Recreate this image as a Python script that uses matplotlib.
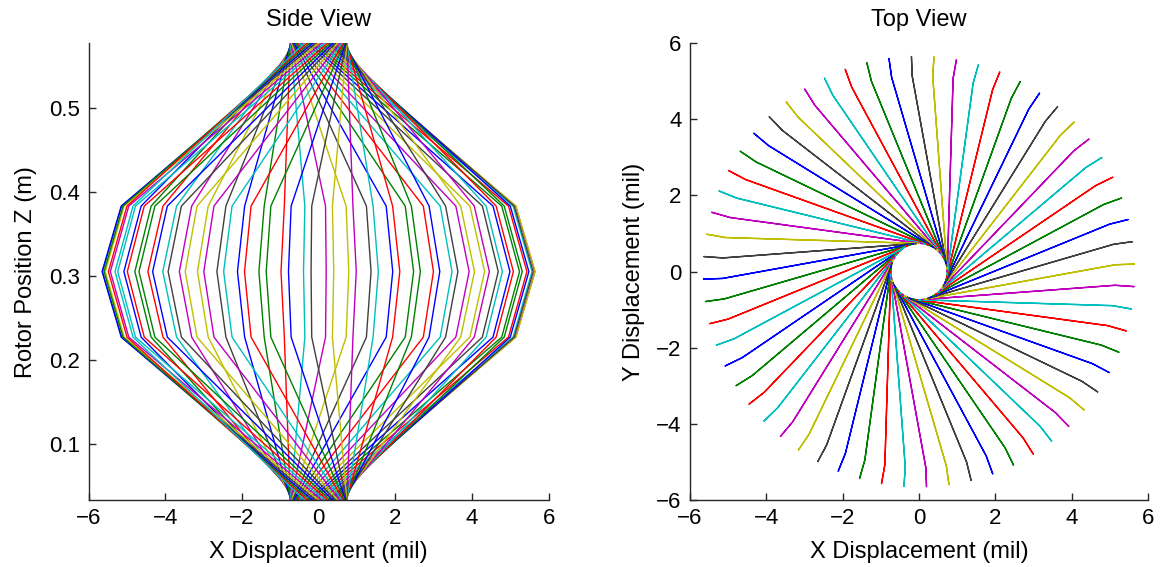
import numpy as np
import matplotlib.pyplot as plt

plt.rcParams['font.family'] = ['Liberation Sans', 'DejaVu Sans']
plt.rcParams['font.size'] = 17

# mode shape: node position, whirl amplitude (mil), phase (deg)
z_nodes = [0.033, 0.227, 0.305, 0.383, 0.577]
amp_nodes = [0.74, 5.15, 5.65, 5.15, 0.74]
phase_nodes = [-80, 0, 0, 0, -80]

# whirl angle of each snapshot (deg), in plotting order
whirl_deg = [206, 212, 218, 224, 230, 236, 242, 248, 254, 260,
             266, 272, 278, 284, 290, 296, 302, 308, 314, 320,
             326, 332, 338, 344, 350, 356, 2, 8, 14, 20,
             26, 32, 38, 44, 50, 56, 62, 68, 74, 80,
             86, 92, 98, 104, 110, 116, 122, 128, 134, 140,
             146, 152, 158, 164, 170, 176, 182, 188, 194, 200]

# old matlab colour order
colors = [(0, 0, 1), (0, 0.5, 0), (1, 0, 0), (0, 0.75, 0.75),
          (0.75, 0, 0.75), (0.75, 0.75, 0), (0.25, 0.25, 0.25)]

z = np.array(z_nodes)
amp = np.array(amp_nodes)
ph = np.deg2rad(phase_nodes)

fig = plt.figure(figsize=(11.68, 5.67), dpi=100)
ax1 = fig.add_axes([0.0758, 0.118, 0.394, 0.806])
ax2 = fig.add_axes([0.5908, 0.118, 0.392, 0.806])

for i, w in enumerate(whirl_deg):
    a = np.deg2rad(w) + ph
    x = amp * np.cos(a)
    y = amp * np.sin(a)
    c = colors[i % 7]
    ax1.plot(x, z, color=c, lw=1.0)
    ax2.plot(x, y, color=c, lw=1.0)

ax1.set_xlim(-6, 6)
ax1.set_ylim(z_nodes[0], z_nodes[-1])
ax1.set_xticks([-6, -4, -2, 0, 2, 4, 6])
ax1.set_yticks([0.1, 0.2, 0.3, 0.4, 0.5])
ax1.set_title('Side View', fontsize=17, pad=12)
ax1.set_xlabel('X Displacement (mil)', fontsize=17, labelpad=8)
ax1.set_ylabel('Rotor Position Z (m)', fontsize=17, labelpad=9)

ax2.set_xlim(-6, 6)
ax2.set_ylim(-6, 6)
ax2.set_xticks([-6, -4, -2, 0, 2, 4, 6])
ax2.set_yticks([-6, -4, -2, 0, 2, 4, 6])
ax2.set_title('Top View', fontsize=17, pad=12)
ax2.set_xlabel('X Displacement (mil)', fontsize=17, labelpad=8)
ax2.set_ylabel('Y Displacement (mil)', fontsize=17, labelpad=8)

for ax in (ax1, ax2):
    ax.spines['top'].set_visible(False)
    ax.spines['right'].set_visible(False)
    for s in ('left', 'bottom'):
        ax.spines[s].set_color('#262626')
        ax.spines[s].set_linewidth(1.0)
    ax.tick_params(direction='in', length=5, width=1.0, colors='#262626',
                   labelcolor='black', labelsize=16, pad=6)

fig.savefig('out.png', dpi=100)
